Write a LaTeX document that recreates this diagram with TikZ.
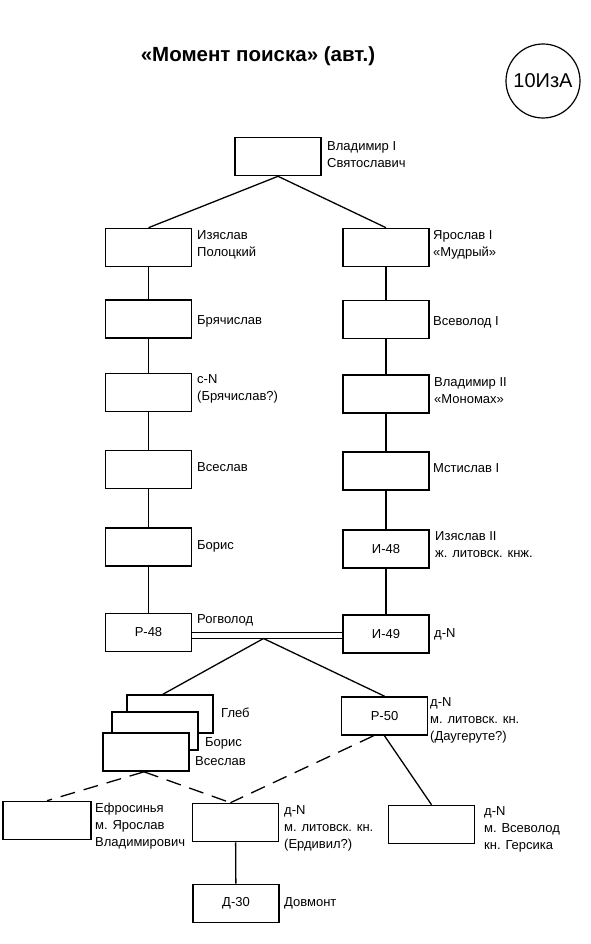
\documentclass[tikz,border=0pt]{standalone}
\usepackage{fontspec}
\setmainfont{Liberation Sans}
\usetikzlibrary{calc}

\begin{document}
\begin{tikzpicture}[x=1pt, y=-1pt,
  person/.style={draw, line width=1.6pt, fill=white, minimum width=86pt, minimum height=38pt, inner sep=0pt, font=\fontsize{13}{16}\selectfont},
  note/.style={anchor=west, align=left, inner sep=0pt, font=\fontsize{13}{17}\selectfont},
  link/.style={line width=1.3pt},
  guess/.style={link, dash pattern=on 15pt off 9pt}]
\useasboundingbox (0,0) rectangle (590,944);

% title and tag
\node[font=\fontsize{20.5}{24}\bfseries\selectfont] (title) at (258,56) {«Момент поиска» (авт.)};
\node[draw, circle, line width=1.2pt, minimum size=74pt, inner sep=0pt, font=\fontsize{20}{24}\selectfont] (tag) at (543,81) {10ИзА};

% top
\node[person] (vl1) at (278,156.5) {};
% left line
\node[person] (izp) at (148.5,247.5) {};
\node[person] (bry) at (148.5,319) {};
\node[person] (sn) at (148.5,392.5) {};
\node[person] (vse) at (148.5,469.5) {};
\node[person] (bor) at (148.5,547) {};
\node[person] (r48) at (148.5,632.5) {Р-48};
% right line
\node[person] (yar) at (386,247.5) {};
\node[person] (vsv) at (386,319.5) {};
\node[person] (vl2) at (386,394) {};
\node[person] (mst) at (386,471) {};
\node[person] (i48) at (386,549) {И-48};
\node[person] (i49) at (386,634) {И-49};
% children of Р-48 and И-49
\node[person] (gle) at (170,714) {};
\node[person] (bo2) at (155,731) {};
\node[person] (vs2) at (146,752) {};
\node[person] (r50) at (384.5,716) {Р-50};
% bottom
\node[person, minimum width=88pt] (efr) at (47,820.5) {};
\node[person] (dnm) at (235.5,822.5) {};
\node[person] (dnr) at (431.5,824.5) {};
\node[person] (d30) at (236,903.5) {Д-30};

% names
\node[note] (vl1t) at (327,155) {Владимир I\\Святославич};
\node[note] (izpt) at (197,244.5) {Изяслав\\Полоцкий};
\node[note] (yart) at (433,244.5) {Ярослав I\\«Мудрый»};
\node[note] (bryt) at (197,321) {Брячислав};
\node[note] (vsvt) at (433,322) {Всеволод I};
\node[note] (snt) at (197,389) {с-N\\(Брячислав?)};
\node[note] (vl2t) at (434,391) {Владимир II\\«Мономах»};
\node[note] (vset) at (197,467.5) {Всеслав};
\node[note] (mstt) at (433,468) {Мстислав I};
\node[note] (bort) at (197,546) {Борис};
\node[note] (i48t) at (435,545) {Изяслав II\\ж. литовск. кнж.};
\node[note] (r48t) at (197,620) {Рогволод};
\node[note] (i49t) at (434,634) {д-N};
\node[note] (glet) at (221,713) {Глеб};
\node[note] (bo2t) at (205,743) {Борис};
\node[note] (vs2t) at (195,761) {Всеслав};
\node[note] (r50t) at (430,720.5) {д-N\\м. литовск. кн.\\(Даугеруте?)};
\node[note] (efrt) at (95,826) {Ефросинья\\м. Ярослав\\Владимирович};
\node[note] (dnmt) at (284,828) {д-N\\м. литовск. кн.\\(Ердивил?)};
\node[note] (dnrt) at (484,829.5) {д-N\\м. Всеволод\\кн. Герсика};
\node[note] (d30t) at (284,903) {Довмонт};

% links
\draw[link] (vl1.south) -- (izp.north);
\draw[link] (vl1.south) -- (yar.north);
\foreach \a/\b in {izp/bry, bry/sn, sn/vse, vse/bor, bor/r48,
                   yar/vsv, vsv/vl2, vl2/mst, mst/i48, i48/i49, dnm/d30}
  \draw[link] (\a) -- (\b);

% marriage
\draw[link] (r48.east) -- (r48.east -| i49.west);
\draw[link] ([yshift=-6pt]r48.east) -- ([yshift=-6pt]r48.east -| i49.west);
\coordinate (jn) at ($([yshift=-6pt]r48.east)!0.475!([yshift=-6pt]r48.east -| i49.west)$);
\draw[link] (jn) -- ([xshift=-7pt]gle.north);
\draw[link] (jn) -- (r50.north);

% lower links
\draw[guess] ([xshift=-2pt]vs2.south) -- (efr.north);
\draw[guess] ([xshift=-2pt]vs2.south) -- ([xshift=-5pt]dnm.north);
\draw[guess] ([xshift=-11pt]r50.south) -- ([xshift=-5pt]dnm.north);
\draw[link] (r50.south) -- (dnr.north);
\end{tikzpicture}
\end{document}
